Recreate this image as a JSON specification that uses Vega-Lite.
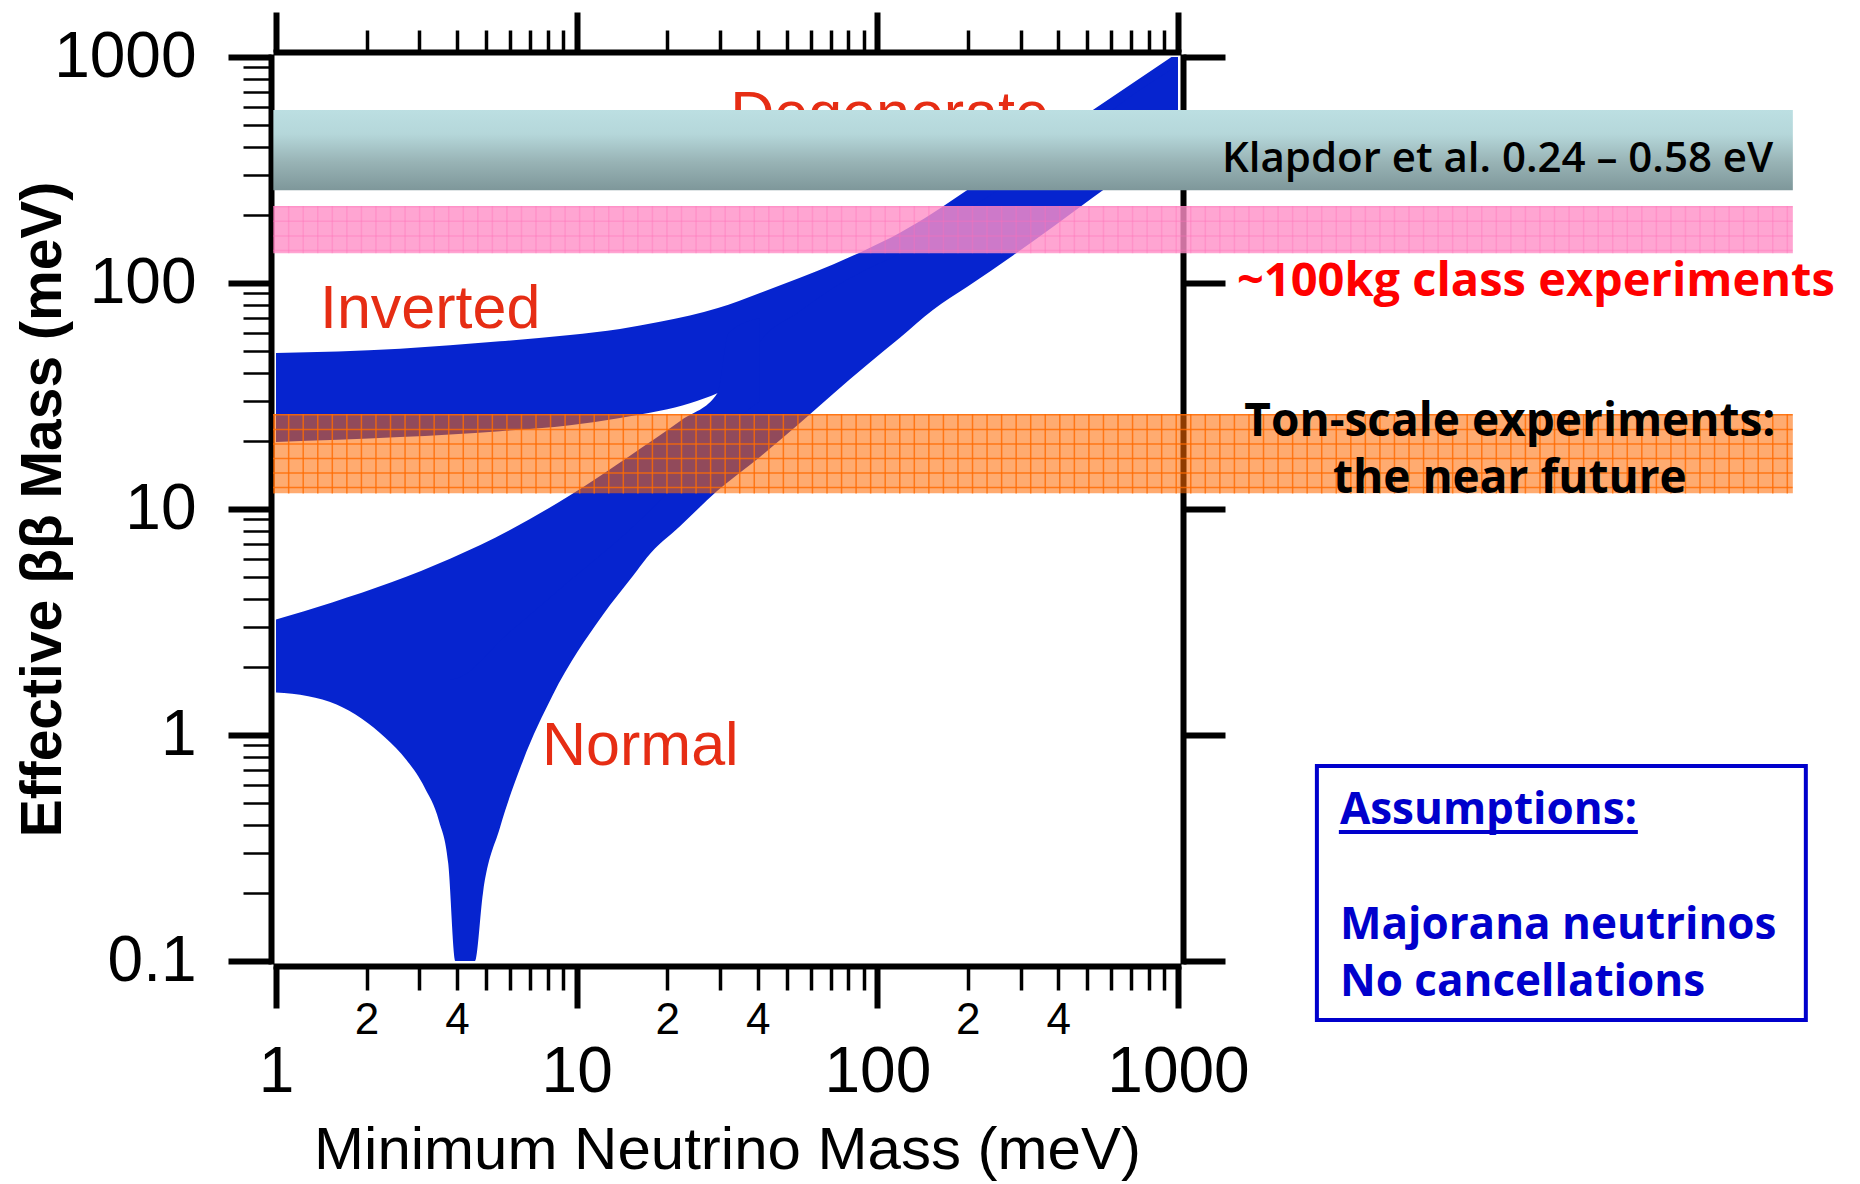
{
  "$schema": "https://vega.github.io/schema/vega-lite/v6.json",
  "width": 902,
  "height": 904,
  "autosize": "none",
  "padding": {"left": 276, "top": 57, "right": 682, "bottom": 223},
  "background": "white",
  "config": {"view": {"stroke": null}, "axis": {"grid": false}},
  "datasets": {
    "blue": [
      {"series": "Inverted", "m": 1, "lo": 19.8, "hi": 49.0},
      {"series": "Inverted", "m": 2.585, "lo": 20.8, "hi": 51.2},
      {"series": "Inverted", "m": 5.56, "lo": 22.1, "hi": 55.2},
      {"series": "Inverted", "m": 9.5, "lo": 23.5, "hi": 58.9},
      {"series": "Inverted", "m": 13.93, "lo": 25.3, "hi": 62.6},
      {"series": "Inverted", "m": 18.92, "lo": 27.2, "hi": 67.3},
      {"series": "Inverted", "m": 23.8, "lo": 29.4, "hi": 71.8},
      {"series": "Inverted", "m": 29.5, "lo": 32.6, "hi": 77.5},
      {"series": "Inverted", "m": 40.7, "lo": 42, "hi": 90.4},
      {"series": "Inverted", "m": 55.3, "lo": 48, "hi": 105.6},
      {"series": "Inverted", "m": 71.2, "lo": 55, "hi": 120.8},
      {"series": "Inverted", "m": 92.3, "lo": 65, "hi": 141.1},
      {"series": "Inverted", "m": 118.9, "lo": 80, "hi": 167},
      {"series": "Inverted", "m": 153, "lo": 100, "hi": 204},
      {"series": "Inverted", "m": 198.6, "lo": 125, "hi": 257},
      {"series": "Inverted", "m": 291, "lo": 180, "hi": 361},
      {"series": "Inverted", "m": 521, "lo": 320, "hi": 583},
      {"series": "Inverted", "m": 708, "lo": 420, "hi": 767},
      {"series": "Inverted", "m": 1000, "lo": 600, "hi": 1046},
      {"series": "NormalLow", "m": 1, "lo": 1.54, "hi": 2.2},
      {"series": "NormalLow", "m": 1.28, "lo": 1.485, "hi": 2.2},
      {"series": "NormalLow", "m": 1.59, "lo": 1.364, "hi": 2.2},
      {"series": "NormalLow", "m": 1.93, "lo": 1.18, "hi": 2.2},
      {"series": "NormalLow", "m": 2.31, "lo": 0.973, "hi": 2.2},
      {"series": "NormalLow", "m": 2.72, "lo": 0.774, "hi": 2.2},
      {"series": "NormalLow", "m": 3.12, "lo": 0.586, "hi": 2.2},
      {"series": "NormalLow", "m": 3.48, "lo": 0.418, "hi": 2.2},
      {"series": "NormalLow", "m": 3.74, "lo": 0.27, "hi": 2.2},
      {"series": "NormalLow", "m": 3.95, "lo": 0.1, "hi": 2.2},
      {"series": "NormalLow", "m": 4.59, "lo": 0.1, "hi": 2.6},
      {"series": "NormalLow", "m": 4.88, "lo": 0.2, "hi": 2.8},
      {"series": "NormalLow", "m": 5.56, "lo": 0.39, "hi": 3.3},
      {"series": "NormalLow", "m": 6.63, "lo": 0.77, "hi": 4.0},
      {"series": "NormalLow", "m": 8.32, "lo": 1.5, "hi": 5.2},
      {"series": "NormalLow", "m": 12.18, "lo": 3.38, "hi": 8.0},
      {"series": "NormalLow", "m": 15.4, "lo": 5.06, "hi": 10.5},
      {"series": "NormalLow", "m": 17.13, "lo": 6.1, "hi": 12},
      {"series": "NormalLow", "m": 22.1, "lo": 8.4, "hi": 17},
      {"series": "NormalLow", "m": 29.3, "lo": 12.0, "hi": 23},
      {"series": "NormalLow", "m": 40.7, "lo": 17.0, "hi": 55},
      {"series": "NormalLow", "m": 55.3, "lo": 24.0, "hi": 75},
      {"series": "NormalLow", "m": 71.2, "lo": 32.3, "hi": 95},
      {"series": "NormalLow", "m": 92.3, "lo": 43.4, "hi": 115},
      {"series": "NormalLow", "m": 118.9, "lo": 57.3, "hi": 135},
      {"series": "NormalLow", "m": 153, "lo": 76, "hi": 165},
      {"series": "NormalLow", "m": 198.6, "lo": 96, "hi": 210},
      {"series": "NormalLow", "m": 291, "lo": 136, "hi": 290},
      {"series": "NormalLow", "m": 521, "lo": 239, "hi": 500},
      {"series": "NormalLow", "m": 708, "lo": 322, "hi": 680},
      {"series": "NormalLow", "m": 1000, "lo": 452, "hi": 920},
      {"series": "NormalUp", "m": 1, "lo": 1.76, "hi": 3.24},
      {"series": "NormalUp", "m": 1.537, "lo": 1.76, "hi": 3.86},
      {"series": "NormalUp", "m": 2.42, "lo": 1.76, "hi": 4.74},
      {"series": "NormalUp", "m": 3.81, "lo": 1.76, "hi": 6.04},
      {"series": "NormalUp", "m": 6.0, "lo": 2.86, "hi": 8.07},
      {"series": "NormalUp", "m": 9.45, "lo": 4.8, "hi": 11.45},
      {"series": "NormalUp", "m": 14.88, "lo": 8.0, "hi": 17.05},
      {"series": "NormalUp", "m": 22.4, "lo": 13.5, "hi": 24.8},
      {"series": "NormalUp", "m": 29.4, "lo": 18, "hi": 32.6},
      {"series": "NormalUp", "m": 32, "lo": 22, "hi": 60},
      {"series": "NormalUp", "m": 40.7, "lo": 30, "hi": 70}
    ]
  },
  "layer": [
    {
      "data": {"name": "blue"},
      "mark": {"type": "area", "color": "#0624cf", "opacity": 1, "interpolate": "monotone", "clip": true},
      "encoding": {
        "x": {
          "field": "m", "type": "quantitative",
          "scale": {"type": "log", "domain": [1, 1000], "nice": false},
          "axis": {
            "orient": "bottom", "offset": 5,
            "values": [1,2,3,4,5,6,7,8,9,10,20,30,40,50,60,70,80,90,100,200,300,400,500,600,700,800,900,1000],
            "domain": true, "domainWidth": 6, "domainColor": "black", "domainCap": "square",
            "ticks": true, "tickColor": "black",
            "tickSize": {"condition": {"test": "datum.value==1||datum.value==10||datum.value==100||datum.value==1000", "value": 42}, "value": 24},
            "tickWidth": {"condition": {"test": "datum.value==1||datum.value==10||datum.value==100||datum.value==1000", "value": 6}, "value": 3.5},
            "labelExpr": "(datum.value==1||datum.value==10||datum.value==100||datum.value==1000) ? toString(datum.value) : ((datum.value==2||datum.value==20||datum.value==200) ? '2' : ((datum.value==4||datum.value==40||datum.value==400) ? '4' : ''))",
            "labelFontSize": {"condition": {"test": "datum.value==1||datum.value==10||datum.value==100||datum.value==1000", "value": 64}, "value": 44},
            "labelPadding": {"condition": {"test": "datum.value==1||datum.value==10||datum.value==100||datum.value==1000", "value": 83}, "value": 43},
            "labelBaseline": "alphabetic",
            "labelFont": "Liberation Sans", "labelColor": "black",
            "labelFlush": false, "labelOverlap": false, "labelBound": false,
            "title": "Minimum Neutrino Mass (meV)",
            "titleFont": "Liberation Sans", "titleFontSize": 60, "titleFontWeight": "normal", "titleColor": "black",
            "titleBaseline": "alphabetic", "titlePadding": 64
          }
        },
        "y": {
          "field": "lo", "type": "quantitative", "stack": null,
          "scale": {"type": "log", "domain": [0.1, 1000], "nice": false},
          "axis": {
            "orient": "left", "offset": 5,
            "values": [0.1,0.2,0.3,0.4,0.5,0.6,0.7,0.8,0.9,1,2,3,4,5,6,7,8,9,10,20,30,40,50,60,70,80,90,100,200,300,400,500,600,700,800,900,1000],
            "domain": true, "domainWidth": 6, "domainColor": "black", "domainCap": "square",
            "ticks": true, "tickColor": "black",
            "tickSize": {"condition": {"test": "datum.value==0.1||datum.value==1||datum.value==10||datum.value==100||datum.value==1000", "value": 43}, "value": 28},
            "tickWidth": {"condition": {"test": "datum.value==0.1||datum.value==1||datum.value==10||datum.value==100||datum.value==1000", "value": 6}, "value": 2.5},
            "labelExpr": "(datum.value==0.1||datum.value==1||datum.value==10||datum.value==100||datum.value==1000) ? toString(datum.value) : ''",
            "labelFontSize": 64, "labelPadding": 32,
            "labelBaseline": "middle",
            "labelFont": "Liberation Sans", "labelColor": "black",
            "labelFlush": false, "labelOverlap": false, "labelBound": false,
            "title": "Effective ββ Mass (meV)",
            "titleFont": "Liberation Sans", "titleFontSize": 57, "titleFontWeight": "bold", "titleColor": "black",
            "titleBaseline": "alphabetic", "titlePadding": 11
          }
        },
        "y2": {"field": "hi"},
        "detail": {"field": "series"}
      }
    },
    {
      "data": {"values": [
        {"label": "Inverted", "m": 1.40, "v": 63.2},
        {"label": "Normal", "m": 7.67, "v": 0.736},
        {"label": "Degenerate", "m": 32.4, "v": 456}
      ]},
      "mark": {"type": "text", "align": "left", "baseline": "alphabetic", "font": "Liberation Sans", "fontSize": 61, "color": "#e62d14"},
      "encoding": {
        "x": {"field": "m", "type": "quantitative", "scale": {"type": "log", "domain": [1, 1000], "nice": false}, "axis": null},
        "y": {"field": "v", "type": "quantitative", "scale": {"type": "log", "domain": [0.1, 1000], "nice": false}, "axis": null},
        "text": {"field": "label"}
      }
    },
    {
      "data": {"values": [{"band": "Klapdor", "x1": 0.98, "x2": 110900, "v1": 583, "v2": 257}]},
      "mark": {"type": "rect", "color": {"x1": 0, "y1": 0, "x2": 0, "y2": 1, "gradient": "linear", "stops": [
        {"offset": 0, "color": "#bcdfe2"},
        {"offset": 0.3, "color": "#b5d7da"},
        {"offset": 0.65, "color": "#98b3b5"},
        {"offset": 1, "color": "#7e979a"}
      ]}},
      "encoding": {
        "x": {"field": "x1", "type": "quantitative", "scale": {"type": "log", "domain": [1, 1000], "nice": false},
          "axis": {"orient": "top", "offset": 5,
            "values": [1,2,3,4,5,6,7,8,9,10,20,30,40,50,60,70,80,90,100,200,300,400,500,600,700,800,900,1000],
            "domain": true, "domainWidth": 6, "domainColor": "black", "domainCap": "square",
            "ticks": true, "tickColor": "black",
            "tickSize": {"condition": {"test": "datum.value==1||datum.value==10||datum.value==100||datum.value==1000", "value": 40}, "value": 22},
            "tickWidth": {"condition": {"test": "datum.value==1||datum.value==10||datum.value==100||datum.value==1000", "value": 6}, "value": 3.5},
            "labels": false, "title": null}},
        "x2": {"field": "x2"},
        "y": {"field": "v1", "type": "quantitative", "scale": {"type": "log", "domain": [0.1, 1000], "nice": false},
          "axis": {"orient": "right", "offset": 5, "values": [0.1, 1, 10, 100, 1000],
            "domain": true, "domainWidth": 6, "domainColor": "black", "domainCap": "square",
            "ticks": true, "tickColor": "black", "tickSize": 42, "tickWidth": 6,
            "labels": false, "title": null}},
        "y2": {"field": "v2"}
      }
    },
    {
      "data": {"values": [{"band": "100kg", "x1": 0.98, "x2": 110900, "v1": 219, "v2": 135.3}]},
      "mark": {"type": "rect", "color": "#ff8ec7", "opacity": 0.8},
      "encoding": {
        "x": {"field": "x1", "type": "quantitative", "scale": {"type": "log", "domain": [1, 1000], "nice": false}, "axis": null},
        "x2": {"field": "x2"},
        "y": {"field": "v1", "type": "quantitative", "scale": {"type": "log", "domain": [0.1, 1000], "nice": false}, "axis": null},
        "y2": {"field": "v2"}
      }
    },
    {
      "data": {"values": [{"band": "100kg", "x1": 0.98, "x2": 110900, "v": 172.1}]},
      "mark": {"type": "rule", "color": "#ff70b8", "strokeWidth": 47.3, "strokeDash": [1.5, 13.05], "opacity": 0.35},
      "encoding": {
        "x": {"field": "x1", "type": "quantitative", "scale": {"type": "log", "domain": [1, 1000], "nice": false}, "axis": null},
        "x2": {"field": "x2"},
        "y": {"field": "v", "type": "quantitative", "scale": {"type": "log", "domain": [0.1, 1000], "nice": false}, "axis": null}
      }
    },
    {
      "data": {"values": [{"band": "100kg", "m": 329, "v1": 219, "v2": 135.3}]},
      "mark": {"type": "rule", "color": "#ff70b8", "strokeWidth": 1519.6, "strokeDash": [1.5, 13.05], "opacity": 0.35},
      "encoding": {
        "x": {"field": "m", "type": "quantitative", "scale": {"type": "log", "domain": [1, 1000], "nice": false}, "axis": null},
        "y": {"field": "v1", "type": "quantitative", "scale": {"type": "log", "domain": [0.1, 1000], "nice": false}, "axis": null},
        "y2": {"field": "v2"}
      }
    },
    {
      "data": {"values": [{"band": "Ton", "x1": 0.98, "x2": 110900, "v1": 26.3, "v2": 11.73}]},
      "mark": {"type": "rect", "color": "#ff6900", "opacity": 0.56},
      "encoding": {
        "x": {"field": "x1", "type": "quantitative", "scale": {"type": "log", "domain": [1, 1000], "nice": false}, "axis": null},
        "x2": {"field": "x2"},
        "y": {"field": "v1", "type": "quantitative", "scale": {"type": "log", "domain": [0.1, 1000], "nice": false}, "axis": null},
        "y2": {"field": "v2"}
      }
    },
    {
      "data": {"values": [{"band": "Ton", "x1": 0.98, "x2": 110900, "v": 17.56}]},
      "mark": {"type": "rule", "color": "#ff6a00", "strokeWidth": 79.3, "strokeDash": [1.5, 13.05], "opacity": 0.8},
      "encoding": {
        "x": {"field": "x1", "type": "quantitative", "scale": {"type": "log", "domain": [1, 1000], "nice": false}, "axis": null},
        "x2": {"field": "x2"},
        "y": {"field": "v", "type": "quantitative", "scale": {"type": "log", "domain": [0.1, 1000], "nice": false}, "axis": null}
      }
    },
    {
      "data": {"values": [{"band": "Ton", "m": 329, "v1": 26.3, "v2": 11.73}]},
      "mark": {"type": "rule", "color": "#ff6a00", "strokeWidth": 1519.6, "strokeDash": [1.5, 13.05], "opacity": 0.8},
      "encoding": {
        "x": {"field": "m", "type": "quantitative", "scale": {"type": "log", "domain": [1, 1000], "nice": false}, "axis": null},
        "y": {"field": "v1", "type": "quantitative", "scale": {"type": "log", "domain": [0.1, 1000], "nice": false}, "axis": null},
        "y2": {"field": "v2"}
      }
    },
    {
      "data": {"values": [{"label": "Klapdor et al. 0.24 – 0.58 eV", "m": 1400, "v": 310}]},
      "mark": {"type": "text", "align": "left", "baseline": "alphabetic", "font": "Open Sans", "fontSize": 42, "fontWeight": 600, "color": "black"},
      "encoding": {
        "x": {"field": "m", "type": "quantitative", "scale": {"type": "log", "domain": [1, 1000], "nice": false}, "axis": null},
        "y": {"field": "v", "type": "quantitative", "scale": {"type": "log", "domain": [0.1, 1000], "nice": false}, "axis": null},
        "text": {"field": "label"}
      }
    },
    {
      "data": {"values": [{"label": "~100kg class experiments", "m": 1570, "v": 87.6}]},
      "mark": {"type": "text", "align": "left", "baseline": "alphabetic", "font": "Open Sans", "fontSize": 47, "fontWeight": "bold", "color": "#ff0000"},
      "encoding": {
        "x": {"field": "m", "type": "quantitative", "scale": {"type": "log", "domain": [1, 1000], "nice": false}, "axis": null},
        "y": {"field": "v", "type": "quantitative", "scale": {"type": "log", "domain": [0.1, 1000], "nice": false}, "axis": null},
        "text": {"field": "label"}
      }
    },
    {
      "data": {"values": [
        {"label": "Ton-scale experiments:", "m": 12700, "v": 21.0},
        {"label": "the near future", "m": 12700, "v": 11.8}
      ]},
      "mark": {"type": "text", "align": "center", "baseline": "alphabetic", "font": "Open Sans", "fontSize": 46, "fontWeight": "bold", "color": "black"},
      "encoding": {
        "x": {"field": "m", "type": "quantitative", "scale": {"type": "log", "domain": [1, 1000], "nice": false}, "axis": null},
        "y": {"field": "v", "type": "quantitative", "scale": {"type": "log", "domain": [0.1, 1000], "nice": false}, "axis": null},
        "text": {"field": "label"}
      }
    },
    {
      "data": {"values": [{"box": "Assumptions", "x1": 2897, "x2": 122500, "v1": 0.729, "v2": 0.0548}]},
      "mark": {"type": "rect", "fill": "white", "stroke": "#0000cc", "strokeWidth": 4},
      "encoding": {
        "x": {"field": "x1", "type": "quantitative", "scale": {"type": "log", "domain": [1, 1000], "nice": false}, "axis": null},
        "x2": {"field": "x2"},
        "y": {"field": "v1", "type": "quantitative", "scale": {"type": "log", "domain": [0.1, 1000], "nice": false}, "axis": null},
        "y2": {"field": "v2"}
      }
    },
    {
      "data": {"values": [
        {"label": "Assumptions:", "m": 3455, "v": 0.404},
        {"label": "Majorana neutrinos", "m": 3455, "v": 0.125},
        {"label": "No cancellations", "m": 3455, "v": 0.070}
      ]},
      "mark": {"type": "text", "align": "left", "baseline": "alphabetic", "font": "Open Sans", "fontSize": 44, "fontWeight": "bold", "color": "#0000cc"},
      "encoding": {
        "x": {"field": "m", "type": "quantitative", "scale": {"type": "log", "domain": [1, 1000], "nice": false}, "axis": null},
        "y": {"field": "v", "type": "quantitative", "scale": {"type": "log", "domain": [0.1, 1000], "nice": false}, "axis": null},
        "text": {"field": "label"}
      }
    },
    {
      "data": {"values": [{"line": "underline", "x1": 3428, "x2": 33840, "v": 0.372}]},
      "mark": {"type": "rule", "color": "#0000cc", "strokeWidth": 4},
      "encoding": {
        "x": {"field": "x1", "type": "quantitative", "scale": {"type": "log", "domain": [1, 1000], "nice": false}, "axis": null},
        "x2": {"field": "x2"},
        "y": {"field": "v", "type": "quantitative", "scale": {"type": "log", "domain": [0.1, 1000], "nice": false}, "axis": null}
      }
    }
  ],
  "resolve": {"axis": {"x": "independent", "y": "independent"}}
}
